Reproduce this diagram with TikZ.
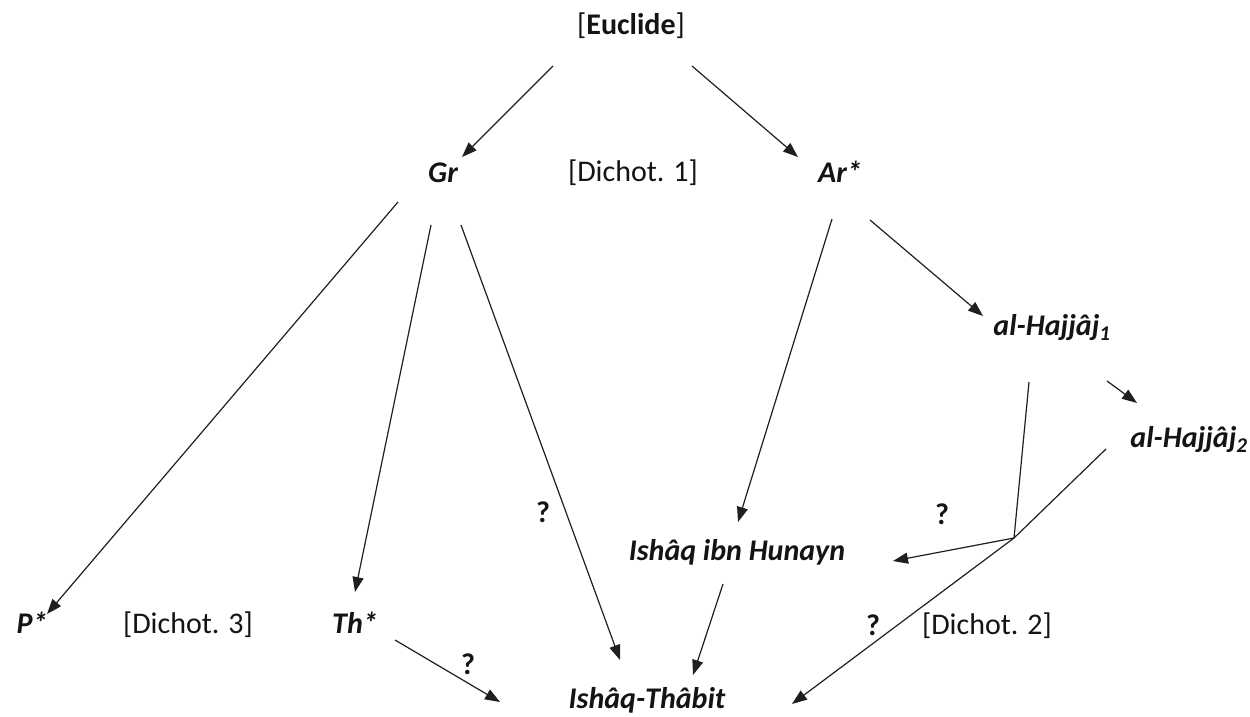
\documentclass[tikz,border=0pt]{standalone}
\usepackage{fontspec}
\setmainfont{Carlito}
\usetikzlibrary{arrows.meta}
\begin{document}
\begin{tikzpicture}[x=1pt,y=-1pt,
  nm/.style={font=\fontsize{30}{36}\selectfont\bfseries\itshape, text=black!92, inner sep=0pt, anchor=base},
  rg/.style={font=\fontsize{30}{36}\selectfont, text=black!92, inner sep=0pt, anchor=base},
  qm/.style={font=\fontsize{30}{36}\selectfont\bfseries, text=black!92, inner sep=0pt},
  arr/.style={draw=black!88, line width=1.2pt, -{Triangle[length=15pt,width=11pt]}},
  ln/.style={draw=black!88, line width=1.2pt}]
\useasboundingbox (0,0) rectangle (1250,717);
\fill[white] (0,0) rectangle (1250,717);

% nodes
\node[rg] (eu) at (631,35) {[\textbf{Euclide}]};
\node[nm] (gr) at (443,182) {Gr};
\node[rg] (d1) at (633,181) {[Dichot. 1]};
\node[nm] (ar) at (840,182) {Ar*};
\node[nm] (h1) at (1052,335) {al-Hajjâj\textsubscript{1}};
\node[nm] (h2) at (1189,447) {al-Hajjâj\textsubscript{2}};
\node[nm] (hun) at (737,560) {Ishâq ibn Hunayn};
\node[nm] (ps) at (32,633) {P*};
\node[rg] (d3) at (188,633) {[Dichot. 3]};
\node[nm] (th) at (355,633) {Th*};
\node[rg] (d2) at (987,634) {[Dichot. 2]};
\node[nm] (it) at (647,708) {Ishâq-Thâbit};

% question marks
\node[qm] (q1) at (543,512) {?};
\node[qm] (q2) at (942,514) {?};
\node[qm] (q3) at (873,625) {?};
\node[qm] (q4) at (468,664) {?};

% connector ends
\coordinate (eu-l) at (553,66);
\coordinate (eu-r) at (692,66);
\coordinate (gr-in) at (462,157);
\coordinate (ar-in) at (798,157);
\coordinate (gr-a) at (398,202);
\coordinate (gr-b) at (431,225);
\coordinate (gr-c) at (461,225);
\coordinate (ps-in) at (47,614);
\coordinate (th-in) at (355,592);
\coordinate (it-a) at (620,660);
\coordinate (ar-a) at (832,219);
\coordinate (ar-b) at (870,220);
\coordinate (hun-in) at (738,522);
\coordinate (h1-in) at (983,316);
\coordinate (h1-a) at (1107,381);
\coordinate (h2-in) at (1137,403);
\coordinate (h1-b) at (1029,382);
\coordinate (h2-a) at (1106,449);
\coordinate (j) at (1014,538);
\coordinate (hun-r) at (893,561);
\coordinate (it-r) at (792,704);
\coordinate (th-a) at (395,640);
\coordinate (it-l) at (500,702);
\coordinate (hun-b) at (723,584);
\coordinate (it-b) at (693,675);

% connectors
\draw[arr] (eu-l) -- (gr-in);
\draw[arr] (eu-r) -- (ar-in);
\draw[arr] (gr-a) -- (ps-in);
\draw[arr] (gr-b) -- (th-in);
\draw[arr] (gr-c) -- (it-a);
\draw[arr] (ar-a) -- (hun-in);
\draw[arr] (ar-b) -- (h1-in);
\draw[arr] (h1-a) -- (h2-in);
\draw[ln] (h1-b) -- (j);
\draw[ln] (h2-a) -- (j);
\draw[arr] (j) -- (hun-r);
\draw[arr] (j) -- (it-r);
\draw[arr] (th-a) -- (it-l);
\draw[arr] (hun-b) -- (it-b);
\end{tikzpicture}
\end{document}
